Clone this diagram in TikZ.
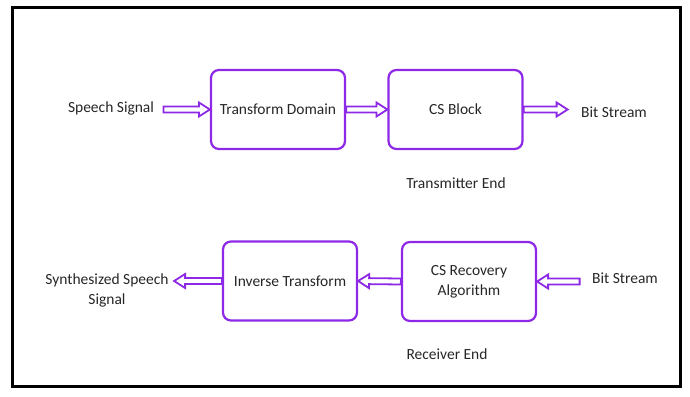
\documentclass[tikz,border=0pt]{standalone}
\usepackage{fontspec}
\setmainfont{Carlito}
\usetikzlibrary{calc}
\definecolor{blockviolet}{RGB}{140,40,230}

\begin{document}
\begin{tikzpicture}[x=1pt,y=-1pt,
  block/.style={draw=blockviolet, line width=2.2pt, rounded corners=8pt,
    minimum width=134pt, minimum height=79pt, align=center,
    text=black!85, font=\fontsize{15.5}{20}\selectfont},
  caption/.style={font=\fontsize{15.5}{20}\selectfont, text=black!85, align=center},
  flow/.style={draw=blockviolet, line width=1.8pt, line join=miter,
    to path={let \p1=($(\tikztotarget)-(\tikztostart)$),
      \n1={veclen(\x1,\y1)}, \n2={atan2(\y1,\x1)} in
      [shift={(\tikztostart)}, rotate=\n2]
      (0,3) -- ({\n1-11},3) -- ({\n1-11},7) -- (\n1,0) -- ({\n1-11},-7)
      -- ({\n1-11},-3) -- (0,-3) -- cycle}}]
\useasboundingbox (0,0) rectangle (690,396);
\draw[line width=3pt] (12,8) rectangle (680,386);

% transmitter
\node[caption] (speech) at (111,108) {Speech Signal};
\node[block] (transform) at (278,109.5) {Transform Domain};
\node[block] (csblock) at (455.5,109.5) {CS Block};
\node[caption] (bitout) at (614,112) {Bit Stream};
\node[caption] (txend) at (456,183) {Transmitter End};

\draw[flow] ([xshift=6pt]speech.east |- transform.west) to (transform.west);
\draw[flow] (transform.east) to (csblock.west);
\draw[flow] (csblock.east) to ([xshift=-10pt]bitout.west |- csblock.east);

% receiver
\node[caption] (bitin) at (625,278) {Bit Stream};
\node[block] (recovery) at (469,281.5) {CS Recovery\\Algorithm};
\node[block] (inverse) at (290,281) {Inverse Transform};
\node[caption] (synth) at (107,290) {Synthesized Speech\\Signal};
\node[caption] (rxend) at (447,354) {Receiver End};

\draw[flow] ([xshift=-9pt]bitin.west |- recovery.east) to (recovery.east);
\draw[flow] (recovery.west) to (inverse.east);
\draw[flow] (inverse.west) to ([xshift=2pt]synth.east |- inverse.west);
\end{tikzpicture}
\end{document}
